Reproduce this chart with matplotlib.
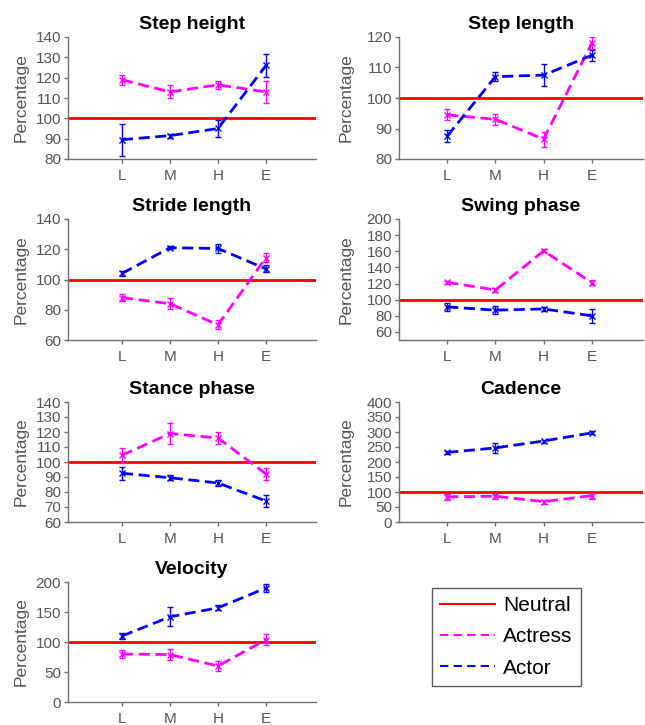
"""Gait parameters (percentage of neutral) for actress vs actor across emotion levels."""
import matplotlib
matplotlib.use("Agg")
import matplotlib.pyplot as plt
from matplotlib.lines import Line2D
import numpy as np

plt.rcParams["font.family"] = ["Liberation Sans", "DejaVu Sans"]

levels = ["L", "M", "H", "E"]
neutral = 100

step_height_actress = [119, 113, 116.5, 113]
step_height_actress_err = [2.5, 3.2, 2, 5.5]
step_height_actor = [89.5, 91.5, 95, 126]
step_height_actor_err = [7.8, 1, 4, 5.5]

step_length_actress = [94.5, 93, 86.5, 118]
step_length_actress_err = [1.8, 1.8, 2.5, 2]
step_length_actor = [87.5, 107, 107.5, 114]
step_length_actor_err = [2, 1.5, 3.7, 1.8]

stride_length_actress = [88, 84, 70, 114.5]
stride_length_actress_err = [2.5, 3.8, 3, 2.8]
stride_length_actor = [104, 121, 120.5, 107]
stride_length_actor_err = [1.5, 1, 3, 2.3]

swing_phase_actress = [121.5, 112, 160.5, 121]
swing_phase_actress_err = [2, 3, 2, 3]
swing_phase_actor = [91, 87, 88.5, 80]
swing_phase_actor_err = [5, 5, 2, 9]

stance_phase_actress = [104.5, 119, 116, 92]
stance_phase_actress_err = [5, 7, 4, 4]
stance_phase_actor = [92.5, 89.5, 86, 74]
stance_phase_actor_err = [4.5, 1.8, 2, 3.8]

cadence_actress = [84, 86, 68, 88]
cadence_actress_err = [9, 8.5, 6.5, 10]
cadence_actor = [232, 247, 270, 297]
cadence_actor_err = [4, 16, 5, 5]

velocity_actress = [80, 79, 60, 104]
velocity_actress_err = [7, 9.5, 8.5, 9.5]
velocity_actor = [110, 142, 157, 190]
velocity_actor_err = [4.5, 16, 4, 6]

panels = [
    ("Step height", step_height_actress, step_height_actress_err,
     step_height_actor, step_height_actor_err, (80, 140), np.arange(80, 141, 10)),
    ("Step length", step_length_actress, step_length_actress_err,
     step_length_actor, step_length_actor_err, (80, 120), np.arange(80, 121, 10)),
    ("Stride length", stride_length_actress, stride_length_actress_err,
     stride_length_actor, stride_length_actor_err, (60, 140), np.arange(60, 141, 20)),
    ("Swing phase", swing_phase_actress, swing_phase_actress_err,
     swing_phase_actor, swing_phase_actor_err, (50, 200), np.arange(60, 201, 20)),
    ("Stance phase", stance_phase_actress, stance_phase_actress_err,
     stance_phase_actor, stance_phase_actor_err, (60, 140), np.arange(60, 141, 10)),
    ("Cadence", cadence_actress, cadence_actress_err,
     cadence_actor, cadence_actor_err, (0, 400), np.arange(0, 401, 50)),
    ("Velocity", velocity_actress, velocity_actress_err,
     velocity_actor, velocity_actor_err, (0, 200), np.arange(0, 201, 50)),
]

W, H = 645, 725
col_left = [(68, 316), (399, 643)]
label_x = [29, 354]  # pixel x of the right edge of the rotated "Percentage" label
row_top_bottom = [(37, 159), (219, 340), (402, 522), (582, 702)]

ACTRESS = "#ff00ff"
ACTOR = "#0000ff"
GRAY = "#555555"

fig = plt.figure(figsize=(W / 100, H / 100), dpi=100)
x = np.arange(1, len(levels) + 1)

for i, (title, fv, fe, mv, me, ylim, yticks) in enumerate(panels):
    r, c = divmod(i, 2)
    x0, x1 = col_left[c]
    t, b = row_top_bottom[r]
    ax = fig.add_axes([x0 / W, 1 - b / H, (x1 - x0) / W, (b - t) / H])

    ax.axhline(neutral, color="red", lw=2, zorder=1)
    for vals, errs, col in ((fv, fe, ACTRESS), (mv, me, ACTOR)):
        ax.errorbar(x, vals, yerr=errs, color=col, ls=(0, (4, 2)), lw=2,
                    marker="x", ms=4, mew=1, elinewidth=1, capsize=2.5,
                    capthick=1, zorder=3)

    if c == 0:
        ax.set_xlim(1 - 54 / 48, 4 + 50 / 48)
    else:
        ax.set_xlim(0, 4 + 51 / 48)
    ax.set_ylim(*ylim)
    ax.set_yticks(yticks)
    ax.set_xticks(x)
    ax.set_xticklabels(levels)
    ax.set_title(title, fontsize=14, fontweight="bold", pad=6)
    ax.set_ylabel("Percentage", fontsize=12.5, color=GRAY)
    ax.yaxis.set_label_coords((label_x[c] - x0) / (x1 - x0), 0.5)

    for side in ("top", "right"):
        ax.spines[side].set_visible(False)
    for side in ("left", "bottom"):
        ax.spines[side].set_color("#707070")
        ax.spines[side].set_linewidth(1)
    ax.tick_params(colors="#707070", labelcolor=GRAY, labelsize=11,
                   length=3, width=1, pad=2)
    ax.tick_params(axis="x", pad=4)

handles = [
    Line2D([], [], color="red", lw=1.5),
    Line2D([], [], color=ACTRESS, lw=1.5, ls=(0, (4, 2.5))),
    Line2D([], [], color=ACTOR, lw=1.5, ls=(0, (4, 2.5))),
]
leg = fig.legend(handles, ["Neutral", "Actress", "Actor"],
                 loc="upper left", bbox_to_anchor=(432 / W, 1 - 588 / H),
                 fontsize=15, frameon=True, fancybox=False, handlelength=2.6,
                 borderpad=0.4, labelspacing=0.58, handletextpad=0.4,
                 borderaxespad=0)
leg.get_frame().set_edgecolor("#333333")
leg.get_frame().set_linewidth(1)

fig.savefig("out.png", dpi=100)
